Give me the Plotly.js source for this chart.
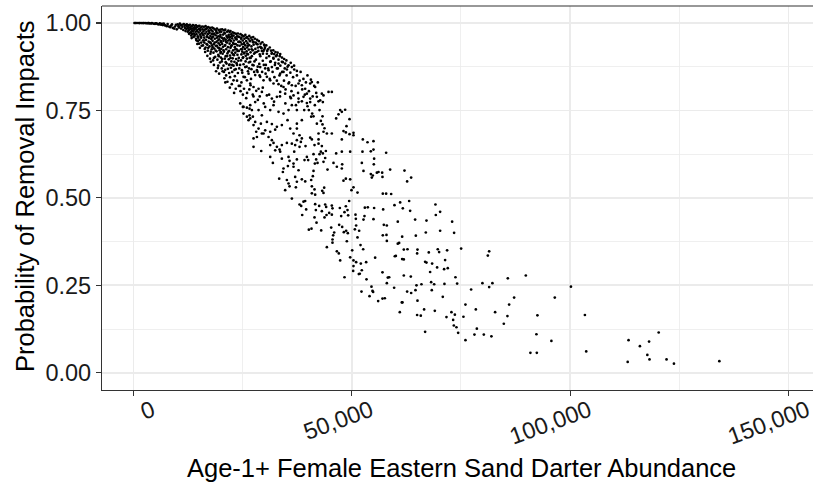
<!DOCTYPE html>
<html><head><meta charset="utf-8">
<script src="https://cdn.plot.ly/plotly-3.0.1.min.js"></script>
<style>html,body{margin:0;padding:0;background:#fff;overflow:hidden;width:813px;height:482px}#chart{width:814px;height:482px}</style>
</head><body><div id="chart"></div>
<script>
// Abundance values are in thousands of fish; probability is 0..1
const lineX=[0.2,0.4,0.6,1.0,1.3,1.5,1.9,2.2,2.4,2.8,3.1,3.3,3.7,4.0,4.2,4.6,4.9,5.1,5.5,5.8,6.0,6.3,6.7,6.9,7.2,7.6,7.8,8.1,8.4,8.8,9.0,9.3,9.7,9.9,5.3,7.0,8.6,9.5,3.5,6.5];
const lineY=[1,1,1,1,.9999,1,.9998,.9997,1,.9995,.9993,.9998,.999,.9985,.9996,.998,.9975,.9993,.997,.996,.9988,.995,.994,.998,.993,.991,.997,.99,.988,.996,.986,.984,.995,.982,.9985,.9955,.9925,.99,.9995,.9975];
const band10X=[10.1,10.3,10.4,10.6,10.8,10.9,11.1,11.2,11.4,11.5,11.7,11.8,11.9,12.0,12.1];
const band10Y=[.996,.991,.987,.998,.993,.984,.995,.989,.980,.997,.992,.986,.977,.994,.983];
const band12X=[12.2,12.3,12.4,12.5,12.6,12.7,12.8,12.9,13.0,13.1,13.2,13.3,13.4,13.5,13.6,13.7,13.8,13.8,13.9,14.0,14.0,13.3];
const band12Y=[.996,.990,.975,.985,.993,.969,.981,.995,.988,.973,.964,.991,.978,.984,.994,.960,.970,.987,.981,.992,.966,.957];
const band14X=[14.1,14.2,14.3,14.3,14.4,14.5,14.6,14.7,14.7,14.8,14.9,15.0,15.1,15.1,15.2,15.3,15.4,15.5,15.5,15.6,15.7,15.8,15.9,15.9,16.0,16.0,15.2,14.6];
const band14Y=[.985,.975,.993,.955,.968,.988,.980,.948,.962,.991,.973,.983,.952,.992,.967,.978,.987,.944,.958,.971,.990,.982,.950,.936,.965,.976,.929,.940];
const band16X=[16.1,16.2,16.2,16.3,16.4,16.5,16.5,16.6,16.7,16.8,16.8,16.9,17.0,17.0,17.1,17.2,17.2,17.3,17.4,17.4,17.5,17.6,17.6,17.7,17.8,17.8,17.9,17.9,18.0,18.0,16.9,17.5,16.4,17.7];
const band16Y=[.989,.958,.944,.981,.970,.991,.930,.952,.975,.962,.985,.938,.968,.921,.988,.947,.979,.957,.933,.972,.986,.912,.963,.942,.980,.954,.925,.969,.987,.936,.906,.898,.917,.889];
const band18X=[18.1,18.1,18.2,18.3,18.3,18.4,18.5,18.5,18.6,18.6,18.7,18.8,18.8,18.9,19.0,19.0,19.1,19.1,19.2,19.2,19.3,19.4,19.4,19.5,19.5,19.6,19.7,19.7,19.8,19.8,19.9,19.9,20.0,20.0,18.4,19.3,18.9,19.6,18.2,19.9];
const band18Y=[.976,.949,.961,.985,.915,.940,.970,.927,.982,.955,.903,.965,.935,.978,.946,.919,.984,.958,.895,.971,.930,.962,.909,.980,.942,.953,.922,.974,.887,.937,.966,.981,.948,.901,.880,.871,.862,.855,.893,.914];
const band20X=[20.1,20.1,20.2,20.2,20.3,20.3,20.4,20.5,20.5,20.6,20.6,20.7,20.7,20.8,20.9,20.9,21.0,21.0,21.1,21.1,21.2,21.3,21.3,21.4,21.4,21.5,21.5,21.6,21.6,21.7,21.7,21.8,21.8,21.9,22.0,22.0,20.4,21.2,21.9,20.8,21.5,22.0,20.2,21.0];
const band20Y=[.975,.926,.958,.890,.982,.940,.912,.967,.932,.949,.878,.979,.918,.956,.898,.970,.937,.981,.905,.952,.925,.963,.884,.975,.944,.913,.958,.869,.931,.978,.950,.896,.966,.920,.941,.974,.862,.850,.857,.842,.832,.881,.870,.866];
const band22X=[22.1,22.1,22.2,22.2,22.3,22.3,22.4,22.4,22.5,22.5,22.6,22.6,22.7,22.7,22.8,22.8,22.9,22.9,23.0,23.0,23.1,23.1,23.2,23.2,23.3,23.3,23.4,23.4,23.5,23.5,23.6,23.6,23.7,23.7,23.8,23.8,23.9,23.9,24.0,24.0,24.1,24.2,24.2,24.3,22.5,23.4,22.9,24.1];
const band22Y=[.960,.907,.929,.977,.948,.872,.890,.968,.936,.915,.956,.860,.973,.899,.943,.922,.964,.878,.950,.908,.971,.889,.931,.848,.958,.915,.940,.868,.969,.897,.925,.953,.880,.962,.909,.936,.857,.970,.946,.892,.920,.960,.870,.935,.825,.812,.836,.820];
const band24X=[24.5,24.5,24.6,24.7,24.7,24.8,24.9,24.9,25.0,25.1,25.1,25.2,25.3,25.3,25.4,25.5,25.6,25.6,25.7,25.8,25.9,26.0,26.0,26.1,26.2,26.3,26.4,26.5,26.5,26.6,26.7,26.8,26.9,27.0,27.1,27.2,27.3,27.4,27.5,27.6,27.8,27.9,28.0,28.2,28.3,28.5,28.7,28.9,29.1,29.3,29.5,29.7,29.9,30.1,30.4,30.8,31.2,31.5,32.0,32.5,33.0,33.5,34.0,34.5,35.0,36.0,24.6,25.2,25.9,26.4,27.0,27.7,28.4,28.8,29.6,30.3,24.9,25.5,26.2,26.9,24.7,25.3,26.0,26.8,27.3,28.1,28.9,29.6,24.5,25.8];
const band24Y=[.968,.945,.925,.958,.910,.939,.965,.918,.950,.931,.902,.962,.943,.913,.955,.926,.966,.936,.906,.948,.919,.960,.930,.942,.910,.955,.924,.963,.937,.900,.948,.916,.958,.933,.905,.952,.922,.960,.938,.912,.955,.926,.944,.917,.952,.930,.948,.910,.941,.928,.945,.919,.938,.929,.936,.925,.930,.921,.922,.917,.915,.905,.901,.897,.893,.886,.893,.882,.875,.887,.868,.890,.860,.883,.892,.880,.858,.845,.862,.840,.830,.812,.800,.822,.795,.806,.790,.815,.805,.785];
const extraBandX=[12.4,12.6,12.9,13.1,13.4,13.6,13.9,14.2,14.4,14.5,14.8,15.0,15.2,15.4,15.6,15.8,16.1,16.3,16.6,16.7,16.9,17.1,17.3,17.5,17.7,17.9,18.1,18.3,18.4,18.6,18.8,19.0,19.1,19.3,19.5,19.6,19.8,20.0,20.1,20.3,20.5,20.6,20.8,20.9,21.1,21.2,21.4,21.6,21.7,21.9,22.0,22.2,22.3,22.5,22.6,22.8,23.0,23.1,23.3,23.5,23.6,23.8,24.0,24.1,24.3,24.4,19.4,20.7,22.1,23.7];
const extraBandY=[.989,.979,.972,.983,.968,.976,.962,.984,.951,.977,.958,.941,.981,.962,.935,.969,.950,.926,.983,.940,.960,.929,.976,.945,.918,.958,.931,.968,.900,.944,.921,.973,.935,.950,.905,.928,.961,.917,.945,.897,.955,.922,.972,.935,.888,.946,.905,.960,.918,.880,.953,.900,.933,.963,.880,.910,.940,.866,.925,.955,.885,.920,.961,.900,.947,.880,.878,.860,.845,.835];
const extraUpperX=[24.63,24.85,25.02,25.27,25.41,25.66,25.83,26.04,26.19,26.45,26.61,26.83,27.05,27.24,27.38,27.62,27.81,28.03,28.17,28.44,28.58,28.86,29.03,29.21,29.45,29.63,29.84,30.02,30.24,30.43,30.61,30.85,31.04,31.19,31.42,31.63,31.85,32.01,32.26,32.38,32.64,32.82,33.05,33.21,33.43,33.62,33.84,34.03,34.18,34.45,34.63,34.81,35.06,35.28,35.63,35.92,36.17,36.54,36.77,37.13,37.42,37.68,38.04,38.26,38.63,38.91,39.24,39.48,39.83,40.17,40.62,41.03,41.37,41.84,42.21,28.47,29.82,31.05,32.18,33.54,34.77,36.04,37.19,26.52,27.47,25.04,24.42,23.03,22.05,21.02];
const extraUpperY=[.955,.925,.900,.940,.915,.890,.958,.912,.935,.870,.950,.900,.925,.880,.945,.860,.915,.895,.940,.875,.920,.850,.905,.930,.860,.912,.880,.935,.855,.900,.920,.870,.905,.840,.890,.912,.860,.900,.845,.880,.905,.835,.870,.895,.850,.878,.820,.860,.888,.835,.870,.810,.850,.875,.830,.858,.805,.845,.878,.820,.850,.800,.835,.860,.810,.840,.795,.830,.850,.805,.838,.790,.820,.800,.830,.780,.770,.795,.775,.790,.770,.785,.765,.810,.790,.795,.820,.800,.815,.830];
const upperMidX=[27.48,28.40,29.01,29.39,29.93,30.54,31.68,32.22,32.83,33.59,32.06,31.30,32.44,33.21,33.97,34.73,35.50,36.26,36.80,37.41,35.12,34.35,33.59,32.83,31.68,30.92,30.15,29.01,28.25,27.48,26.72,25.96,25.57,26.34,27.86,29.01,29.77,30.54,31.30,32.06,33.21,34.35,35.50,36.26,37.79,38.55,39.31,40.46,40.84,41.60,39.70,38.93,37.79,36.64,35.88,34.73,33.59,32.83,31.68,30.54,29.39,28.63,27.48,26.72,25.96,25.19,24.81,43.13,44.66,45.42,40.46,41.99,42.75,43.51,37.79,37.41,25.19,26.72,27.86,28.63,29.39,30.15,31.30,32.06,33.21,34.35,35.50,36.26,25.96];
const upperMidY=[.946,.939,.932,.920,.924,.912,.914,.911,.908,.911,.898,.889,.886,.884,.889,.884,.879,.874,.867,.863,.867,.860,.855,.870,.874,.865,.870,.874,.865,.879,.889,.898,.874,.855,.851,.846,.836,.846,.836,.827,.825,.817,.827,.822,.827,.822,.812,.827,.831,.817,.798,.789,.784,.793,.789,.798,.803,.789,.784,.793,.803,.812,.817,.827,.836,.846,.865,.798,.803,.803,.784,.789,.779,.793,.774,.751,.760,.765,.774,.751,.736,.760,.751,.765,.746,.741,.751,.765,.732];
const leftTailX=[27.86,29.16,30.54,31.68,32.83,33.97,35.27,37.41,28.63,30.15,31.30,32.44,29.77,28.09,29.39,27.48,30.92,31.68,32.06,31.30,32.83,33.44,33.97,33.59,32.44,29.24,31.30,31.91,33.97,35.12,36.26,37.02,37.41,38.02,36.64,35.88,37.41,38.02,36.80,35.50,35.73,36.64,37.41,34.35,34.20,35.35,36.64,37.79,33.36,35.12,35.50,37.02,37.41,36.26,35.73,37.18,34.73,24.43,25.04,25.96,26.57,27.10,25.19,26.57,27.33,26.34,26.72,28.26,27.48,27.48];
const leftTailY=[.717,.712,.717,.711,.703,.708,.722,.712,.698,.693,.689,.695,.684,.689,.684,.670,.674,.665,.657,.651,.646,.638,.651,.632,.636,.634,.617,.600,.612,.657,.655,.651,.665,.679,.684,.698,.698,.646,.632,.617,.606,.598,.610,.584,.574,.591,.589,.579,.555,.551,.541,.560,.546,.498,.533,.530,.522,.770,.760,.758,.755,.751,.741,.736,.732,.722,.727,.674,.646,.708];
const midX=[38.55,39.70,40.46,41.53,42.37,43.36,39.85,39.09,40.15,40.92,40.69,41.22,38.55,42.60,43.28,42.90,43.28,41.99,43.74,44.28,45.42,42.37,43.51,47.33,46.95,47.71,48.47,46.41,49.47,48.78,48.09,48.63,49.47,50.38,50.38,47.71,52.52,53.59,54.96,38.55,38.32,40.46,40.84,39.39,41.45,42.37,42.37,43.13,42.90,44.05,42.60,43.36,41.22,39.70,39.16,40.00,41.83,43.89,42.14,41.53,43.51,44.43,45.80,46.41,46.57,47.71,47.79,49.62,47.71,52.44,54.35,54.96,57.86,55.11,52.29,55.04,52.67,54.35,54.58,54.81,55.73,56.11,56.95,57.02,58.78,62.06,63.59,62.67,48.09,48.63,49.62,41.22,41.07,40.69,38.55,39.32,40.84,41.45,43.67,43.21,43.51,40.84,41.60,50.38,49.92,51.30,57.10,57.86,59.01];
const midY=[.776,.771,.774,.765,.776,.774,.762,.751,.751,.741,.732,.733,.722,.751,.733,.720,.710,.712,.699,.684,.684,.684,.689,.751,.739,.746,.752,.727,.725,.705,.691,.687,.682,.686,.679,.667,.667,.659,.662,.670,.660,.672,.667,.648,.651,.667,.655,.648,.632,.634,.625,.627,.625,.617,.608,.608,.610,.614,.600,.598,.603,.581,.600,.627,.589,.632,.596,.632,.584,.632,.633,.638,.629,.612,.600,.596,.577,.568,.558,.564,.572,.574,.572,.560,.581,.578,.558,.547,.549,.555,.553,.577,.562,.551,.553,.547,.533,.524,.529,.520,.514,.513,.509,.530,.522,.515,.512,.512,.511];
const lowX=[38.02,38.40,38.93,39.31,39.54,38.63,41.60,41.76,42.52,43.13,43.89,44.12,44.20,44.81,45.42,45.57,45.42,47.25,47.56,48.32,48.63,49.01,49.16,49.39,41.45,43.74,52.98,53.66,55.11,57.18,52.67,52.90,50.84,50.92,54.96,59.77,61.07,63.13,61.68,63.36,69.16,70.23,69.24,64.50,67.10,72.98,41.91,40.15,40.76,42.98,45.27,45.96,47.10,47.79,48.17,48.70,49.08,45.73,45.57,45.57,48.86,50.99,50.69,51.68,51.30,57.33,58.02,60.53,57.10,57.94,58.02,61.53,64.66,66.95,70.23,73.43,44.28,46.57,47.02,47.33,50.08,51.99,52.60,49.62,50.38,50.99,52.06,53.28,55.34,60.53,60.84,61.91,62.75,60.08,59.85,61.53,61.91,65.04,64.96,67.63,69.69,70.00,71.83,50.38,50.31,51.60,51.83,52.29,48.32,53.36,57.02,58.24,58.55,58.02,61.91,63.51,64.81,65.95,66.79,67.10,67.94,68.40,68.17,68.86,69.54,71.14,71.98,71.37,71.22,54.50,54.73,54.88,52.21,54.05,56.03,57.02,57.56,59.69,62.67,63.59,64.58,65.04,68.32,70.84,61.45,61.60,60.99,64.96,65.80,66.56,69.01,66.79,71.68];
const lowY=[.481,.477,.489,.491,.467,.451,.482,.465,.477,.462,.481,.474,.451,.457,.478,.470,.452,.471,.448,.459,.476,.465,.450,.491,.444,.444,.472,.473,.471,.467,.438,.448,.452,.440,.439,.479,.487,.491,.470,.463,.481,.460,.451,.438,.435,.432,.429,.409,.412,.407,.415,.401,.423,.417,.402,.406,.399,.393,.381,.372,.376,.421,.410,.406,.387,.423,.421,.432,.393,.394,.377,.389,.392,.401,.406,.400,.359,.347,.341,.321,.350,.365,.353,.330,.321,.316,.312,.316,.329,.369,.371,.352,.353,.334,.333,.325,.324,.352,.341,.344,.353,.345,.350,.305,.291,.282,.283,.293,.273,.267,.287,.272,.273,.256,.278,.275,.250,.253,.317,.315,.288,.312,.259,.253,.301,.296,.299,.322,.254,.246,.234,.231,.232,.219,.205,.212,.213,.243,.232,.228,.236,.206,.236,.217,.201,.201,.173,.165,.163,.181,.177,.117,.159];
const tailX=[75.04,81.46,81.16,73.74,74.13,79.92,82.21,81.46,85.74,89.86,77.33,100.2,76.03,87.18,96.5,86.04,78.41,72.82,73.6,82.83,75.57,85.65,92.52,73.21,103.4,84.82,73.37,73.97,78.64,74.36,78.09,80.24,81.98,92.29,76.03,95.72,120.3,113.4,118.1,116.0,90.91,92.38,103.7,117.7,118.2,122.1,113.2,123.8,134.2];
const tailY=[.355,.347,.335,.273,.255,.256,.256,.245,.270,.278,.238,.246,.195,.215,.215,.195,.181,.173,.166,.173,.160,.162,.164,.151,.165,.140,.135,.130,.126,.114,.109,.109,.104,.110,.093,.091,.115,.093,.089,.076,.057,.057,.061,.051,.038,.038,.031,.026,.033];

const xTickVals=[0,50000,100000,150000];
const xTickLabels=['0','50,000','100,000','150,000'];
const xMinorVals=[25000,75000,125000];
const yTickVals=[0,0.25,0.5,0.75,1];
const yTickLabels=['0.00','0.25','0.50','0.75','1.00'];
const yMinorVals=[0.125,0.375,0.625,0.875];
const xTitle='Age-1+ Female Eastern Sand Darter Abundance';
const yTitle='Probability of Removal Impacts';

const segX=[lineX,band10X,band12X,band14X,band16X,band18X,band20X,band22X,band24X,extraBandX,extraUpperX,upperMidX,leftTailX,midX,lowX,tailX];
const segY=[lineY,band10Y,band12Y,band14Y,band16Y,band18Y,band20Y,band22Y,band24Y,extraBandY,extraUpperY,upperMidY,leftTailY,midY,lowY,tailY];
const xs=[],ys=[];
segX.forEach((sx,i)=>{const sy=segY[i];const n=Math.min(sx.length,sy.length);for(let k=0;k<n;k++){xs.push(sx[k]*1000);ys.push(sy[k]);}});

const font='"Liberation Sans", Arial, sans-serif';
const trace={type:'scatter',mode:'markers',x:xs,y:ys,hoverinfo:'skip',
  marker:{size:2.7,color:'#000000',line:{width:0}}};
const layout={
  width:814,height:482,margin:{l:102,r:0,t:6,b:92},
  paper_bgcolor:'#ffffff',plot_bgcolor:'#ffffff',showlegend:false,
  font:{family:font,color:'#000'},
  xaxis:{range:[-7237,155885],tickmode:'array',tickvals:xTickVals,ticktext:xTickLabels,
    tickangle:-20,ticklabelshift:19,ticklabelstandoff:-8,ticklabeloverflow:'allow',ticks:'outside',ticklen:5,tickwidth:1.1,tickcolor:'#333333',
    showline:true,linecolor:'#333333',linewidth:1.1,mirror:false,zeroline:false,
    showgrid:true,gridcolor:'#EBEBEB',gridwidth:1.6,automargin:false,
    minor:{tickmode:'array',tickvals:xMinorVals,showgrid:true,gridcolor:'#EBEBEB',gridwidth:0.8,ticks:''},
    tickfont:{family:font,size:23.5,color:'#1a1a1a'}},
  yaxis:{range:[-0.0494,1.0486],tickmode:'array',tickvals:yTickVals,ticktext:yTickLabels,
    ticks:'outside',ticklen:5,tickwidth:1.1,tickcolor:'#333333',
    showline:true,linecolor:'#333333',linewidth:1.1,mirror:false,zeroline:false,
    showgrid:true,gridcolor:'#EBEBEB',gridwidth:1.6,automargin:false,
    minor:{tickmode:'array',tickvals:yMinorVals,showgrid:true,gridcolor:'#EBEBEB',gridwidth:0.8,ticks:''},
    tickfont:{family:font,size:23.5,color:'#1a1a1a'}},
  shapes:[{type:'line',xref:'paper',yref:'paper',x0:0,x1:1,y0:1,y1:1,line:{color:'#333333',width:1.1}}],
  annotations:[
    {text:xTitle,xref:'paper',yref:'paper',x:0.5,y:0,xanchor:'center',yanchor:'middle',xshift:3,yshift:-78,showarrow:false,
     font:{family:font,size:25.5,color:'#000'}},
    {text:yTitle,xref:'paper',yref:'paper',x:0,y:0.5,xanchor:'center',yanchor:'middle',xshift:-77,yshift:1,textangle:-90,showarrow:false,
     font:{family:font,size:25.5,color:'#000'}}
  ]
};
Plotly.newPlot('chart',[trace],layout,{staticPlot:true,displayModeBar:false});
</script></body></html>
